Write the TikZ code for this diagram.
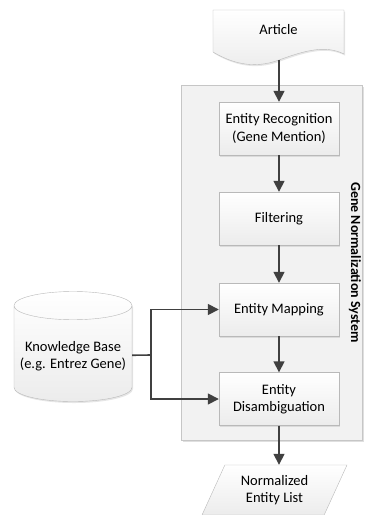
\documentclass[tikz,border=0pt]{standalone}
\usepackage{fontspec}
\setmainfont{Carlito}
\usetikzlibrary{shapes.geometric,shadows,arrows.meta}

\begin{document}
\begin{tikzpicture}[x=1pt,y=-1pt,font=\fontsize{14.5}{17.5}\selectfont,>={Triangle[length=11pt,width=11pt]}]
\tikzstyle{flow}=[rectangle,draw=gray!55,top color=white,bottom color=gray!15,minimum width=120pt,minimum height=53pt,align=center,drop shadow={opacity=0.2,shadow xshift=1pt,shadow yshift=-1.5pt}]
\tikzstyle{link}=[draw=black!75,line width=1.6pt]
\useasboundingbox (0,0) rectangle (366,515);
\node[rectangle,draw=gray!45,fill=gray!10,minimum width=181pt,minimum height=355pt,drop shadow={opacity=0.25,shadow xshift=1.5pt,shadow yshift=-1.5pt}](G) at (271.5,262.5) {};
\node[rotate=-90,font=\fontsize{14}{17}\bfseries](L) at (355,262.5) {Gene Normalization System};
\path[draw=gray!55,top color=white,bottom color=gray!15,drop shadow={opacity=0.2,shadow xshift=1pt,shadow yshift=-1.5pt}] (213,10) -- (344,10) -- (344,54) .. controls (326,45) and (306,50) .. (279,60) coordinate (Ab) .. controls (252,70) and (230,62) .. (213,52) -- cycle;
\node(A) at (278.5,30) {Article};
\node[flow](R) at (279,128.5) {Entity Recognition\\(Gene Mention)};
\node[flow](F) at (279,218.5) {Filtering};
\node[flow](M) at (279,309.5) {Entity Mapping};
\node[flow](D) at (279,399) {Entity\\Disambiguation};
\node[trapezium,trapezium left angle=58,trapezium right angle=122,trapezium stretches body,draw=gray!55,top color=white,bottom color=gray!15,minimum width=145pt,minimum height=50pt,align=center](N) at (274.5,490) {Normalized\\Entity List};
\node[cylinder,shape border rotate=90,aspect=0.25,draw=gray!55,top color=white,bottom color=gray!15,minimum width=118pt,minimum height=110pt,align=center,drop shadow={opacity=0.2,shadow xshift=1pt,shadow yshift=-1.5pt}](K) at (73,356) {Knowledge Base\\(e.g. Entrez Gene)};
\coordinate (J) at (151,355);

\draw[link,->] (Ab) -- (R);
\draw[link,->] (R) -- (F);
\draw[link,->] (F) -- (M);
\draw[link,->] (M) -- (D);
\draw[link,->] (D.south) -- (D.south |- N.north);
\draw[link] (K) -- (J);
\draw[link,->] (J) |- (M);
\draw[link,->] (J) |- (D);
\end{tikzpicture}
\end{document}
